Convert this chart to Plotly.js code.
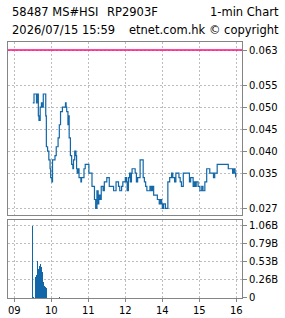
<!DOCTYPE html>
<html>
<head>
<meta charset="utf-8">
<script src="https://cdn.plot.ly/plotly-3.0.1.min.js"></script>
<style>html,body{margin:0;padding:0;background:#fff;}#chart{width:285px;height:318px;}</style>
</head>
<body>
<div id="chart"></div>
<script>
// ---- data ----
const priceTimes = ["09:30","09:32","09:35","09:36","09:37","09:39","09:40","09:42","09:44","09:45","09:47","09:49","09:51","09:52","09:54","09:56","09:58","09:59","10:01","10:02","10:06","10:08","10:11","10:13","10:15","10:18","10:23","10:24","10:25","10:27","10:28","10:29","10:31","10:33","10:35","10:36","10:38","10:40","10:41","10:42","10:43","10:45","10:48","10:49","10:53","10:55","11:01","11:04","11:06","11:09","11:10","11:12","11:14","11:16","11:17","11:19","11:21","11:23","11:24","11:26","11:28","11:30","11:32","11:34","11:38","11:41","11:44","11:45","11:47","11:49","11:51","11:54","11:56","11:58","12:00","13:02","13:03","13:05","13:07","13:08","13:10","13:11","13:15","13:16","13:18","13:20","13:23","13:24","13:28","13:29","13:31","13:33","13:35","13:40","13:42","13:44","13:46","13:52","13:55","13:57","13:59","14:00","14:02","14:05","14:08","14:09","14:12","14:15","14:17","14:20","14:22","14:25","14:27","14:29","14:31","14:34","14:42","14:44","14:46","14:48","14:50","14:52","14:54","14:55","14:58","15:01","15:04","15:06","15:09","15:12","15:16","15:17","15:20","15:23","15:25","15:28","15:29","15:45","15:47","15:52","15:54","15:56","15:58","15:59"];
const prices = [0.051,0.053,0.053,0.051,0.053,0.048,0.047,0.050,0.051,0.050,0.053,0.053,0.048,0.041,0.040,0.038,0.036,0.034,0.033,0.038,0.039,0.041,0.043,0.046,0.049,0.050,0.051,0.050,0.049,0.046,0.048,0.043,0.039,0.037,0.036,0.038,0.040,0.039,0.036,0.035,0.036,0.034,0.033,0.034,0.036,0.037,0.035,0.035,0.032,0.032,0.029,0.027,0.031,0.028,0.030,0.029,0.032,0.032,0.031,0.033,0.033,0.034,0.034,0.032,0.032,0.031,0.031,0.033,0.033,0.032,0.031,0.032,0.033,0.033,0.034,0.033,0.031,0.034,0.035,0.033,0.035,0.036,0.036,0.035,0.033,0.034,0.034,0.038,0.038,0.034,0.033,0.032,0.031,0.032,0.031,0.032,0.030,0.029,0.028,0.029,0.028,0.027,0.028,0.027,0.027,0.033,0.034,0.035,0.034,0.033,0.035,0.035,0.034,0.033,0.032,0.035,0.035,0.033,0.034,0.034,0.032,0.033,0.032,0.033,0.032,0.031,0.032,0.031,0.033,0.036,0.036,0.035,0.035,0.034,0.035,0.035,0.037,0.037,0.036,0.036,0.035,0.036,0.035,0.034];

const volTimes = ["09:30","09:31","09:34","09:35","09:36","09:37","09:38","09:39","09:40","09:41","09:42","09:43","09:44","09:45","09:46","09:47","09:48","09:49","09:50","09:51","09:52","10:13"];
const volumes = [1.05e9,0.02e9,0.03e9,0.31e9,0.33e9,0.34e9,0.54e9,0.42e9,0.43e9,0.46e9,0.47e9,0.49e9,0.45e9,0.38e9,0.30e9,0.23e9,0.19e9,0.17e9,0.16e9,0.16e9,0.15e9,0.01e9];

const refLevel = 0.063;
const hourTicks = [0,1,2,3,4,5,6];
const hourLabels = ["09","10","11","12","14","15","16"];
const priceTicks = [0.027,0.035,0.040,0.045,0.050,0.055,0.063];
const priceTickLabels = ["0.027","0.035","0.040","0.045","0.050","0.055","0.063"];
const volTicks = [0,0.265e9,0.53e9,0.795e9,1.06e9];
const volTickLabels = ["0","0.26B","0.53B","0.79B","1.06B"];

// trading-time axis: lunch break (12:00-13:00) removed
function tpos(s){
  const [h,m] = s.split(":").map(Number);
  return (h >= 13 ? h - 10 : h - 9) + m/60;
}

const blue = "#1167a8";
const grid = "#bdbdbd";
const frame = "#858585";
const font = {family:"DejaVu Sans", size:10, color:"#000"};
const tfont = {family:"DejaVu Sans", size:11.5, color:"#000"};

const traces = [
  {x: priceTimes.map(tpos), y: prices, type:"scatter", mode:"lines",
   line:{color:blue, width:1.2, shape:"hv"}, xaxis:"x", yaxis:"y", hoverinfo:"skip"},
  {x: volTimes.map(tpos), y: volumes, type:"bar", width: 1/60*1.6,
   marker:{color:blue, line:{width:0}}, xaxis:"x2", yaxis:"y2", hoverinfo:"skip"}
];

const xr = [-0.170, 6.154];
const axisCommon = {showline:true, mirror:true, linecolor:frame, linewidth:1,
  showgrid:true, gridcolor:grid, griddash:"2px,2px", gridwidth:1, zeroline:false, tickfont:font};

const layout = {
  width:285, height:318,
  margin:{l:8, r:43, t:42, b:20, pad:0},
  paper_bgcolor:"#fff", plot_bgcolor:"#fff",
  showlegend:false,
  font:font,
  xaxis: Object.assign({}, axisCommon, {range:xr, domain:[0,1], anchor:"y",
    tickvals:hourTicks, ticktext:hourLabels, showticklabels:false, ticks:""}),
  yaxis: Object.assign({}, axisCommon, {range:[0.02548,0.06482], domain:[0.3242,1], anchor:"x",
    side:"right", tickvals:priceTicks, ticktext:priceTickLabels, ticks:"outside", ticklen:4, tickcolor:frame}),
  xaxis2: Object.assign({}, axisCommon, {range:xr, domain:[0,1], anchor:"y2", matches:"x",
    tickvals:hourTicks, ticktext:hourLabels, ticks:"outside", ticklen:3, tickcolor:frame}),
  yaxis2: Object.assign({}, axisCommon, {range:[0,1.138e9], domain:[0,0.3047], anchor:"x2",
    side:"right", tickvals:volTicks, ticktext:volTickLabels, ticks:"outside", ticklen:4, tickcolor:frame}),
  bargap:0,
  shapes:[{type:"line", xref:"paper", x0:0, x1:1, yref:"y", y0:refLevel, y1:refLevel,
    line:{color:"#ff0a7f", width:1.3}}],
  annotations:[
    {text:"58487 MS#HSI", xref:"paper", yref:"paper", x:(10-8)/234, y:(298-12)/256, xanchor:"left", yanchor:"middle", showarrow:false, font:tfont},
    {text:"RP2903F", xref:"paper", yref:"paper", x:(105-8)/234, y:(298-12)/256, xanchor:"left", yanchor:"middle", showarrow:false, font:tfont},
    {text:"1-min Chart", xref:"paper", yref:"paper", x:(281-8)/234, y:(298-12)/256, xanchor:"right", yanchor:"middle", showarrow:false, font:tfont},
    {text:"2026/07/15 15:59", xref:"paper", yref:"paper", x:(10-8)/234, y:(298-30)/256, xanchor:"left", yanchor:"middle", showarrow:false, font:tfont},
    {text:"etnet.com.hk © copyright", xref:"paper", yref:"paper", x:(281-8)/234, y:(298-30)/256, xanchor:"right", yanchor:"middle", showarrow:false, font:tfont}
  ]
};

Plotly.newPlot("chart", traces, layout, {staticPlot:true, displayModeBar:false});
</script>
</body>
</html>
